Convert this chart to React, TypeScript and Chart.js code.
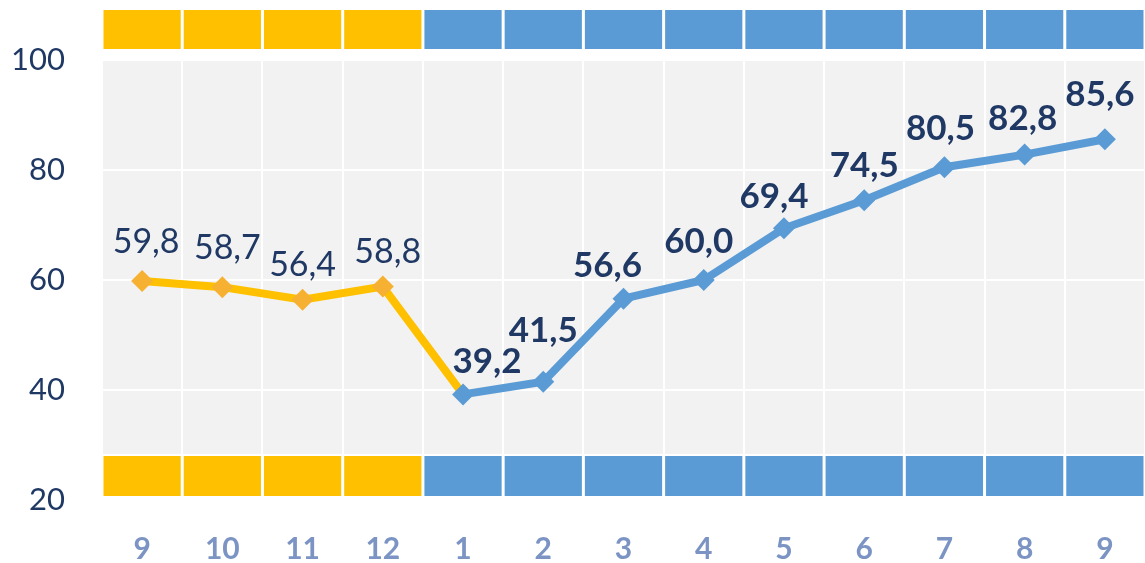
import React, { useEffect, useRef } from "react";
import { Chart, registerables } from "chart.js";

Chart.register(...registerables);

const categories = ["9", "10", "11", "12", "1", "2", "3", "4", "5", "6", "7", "8", "9"];
const values = [59.8, 58.7, 56.4, 58.8, 39.2, 41.5, 56.6, 60.0, 69.4, 74.5, 80.5, 82.8, 85.6];
const yTicks = [20, 40, 60, 80, 100];
const firstPeriodCount = 4; // first 4 months (previous year) in yellow

// label nudges (style only)
const labelDx = [4, 5, 0, 5, 24, 0, -16, -5, -10, 0, -4, -2, -5];
const labelDy = [39, 39, 35, 35, 33, 51, 33, 38, 32, 35, 39, 36, 44];

const YELLOW = "#FFC000";
const YELLOW_MARK = "#F6B132";
const BLUE = "#5B9BD5";
const NAVY = "#1F3864";
const XLABEL = "#7B94C4";
const FONT = "Lato, 'Open Sans', sans-serif";

const fmt = (v: number) => v.toFixed(1).replace(".", ",");

const bgPlugin = {
  id: "bgBands",
  beforeDraw(chart: any) {
    const { ctx, chartArea } = chart;
    ctx.save();
    ctx.fillStyle = "#F2F2F2";
    ctx.fillRect(chartArea.left, chartArea.top, chartArea.right - chartArea.left, chartArea.bottom - 46 - chartArea.top);
    ctx.restore();
  },
  beforeDatasetsDraw(chart: any) {
    const { ctx, chartArea } = chart;
    const x = chart.scales.x;
    const n = categories.length;
    const w = (chartArea.right - chartArea.left) / n;
    const bands = [
      [chartArea.top - 50, chartArea.top - 11],
      [chartArea.bottom - 44, chartArea.bottom - 4],
    ];
    ctx.save();
    for (let i = 0; i < n; i++) {
      const cx = x.getPixelForValue(i);
      const l = cx - w / 2 + 1.5;
      const r = cx + w / 2 - 1.5;
      ctx.fillStyle = i < firstPeriodCount ? YELLOW : BLUE;
      for (const [t, b] of bands) {
        ctx.fillRect(l, t, r - l, b - t);
      }
    }
    ctx.restore();
  },
  afterDatasetsDraw(chart: any) {
    const { ctx } = chart;
    const meta = chart.getDatasetMeta(0);
    ctx.save();
    ctx.textAlign = "center";
    ctx.textBaseline = "middle";
    ctx.fillStyle = NAVY;
    meta.data.forEach((pt: any, i: number) => {
      const bold = i >= firstPeriodCount;
      ctx.font = `${bold ? "bold " : ""}${bold ? 35 : 34}px ${FONT}`;
      ctx.fillText(fmt(values[i]), pt.x + labelDx[i], pt.y - labelDy[i]);
    });
    ctx.restore();
  },
};

export default function App() {
  const ref = useRef<HTMLCanvasElement | null>(null);
  useEffect(() => {
    if (!ref.current) return;
    const chart = new Chart(ref.current, {
      type: "line",
      data: {
        labels: categories,
        datasets: [
          {
            data: values,
            borderWidth: 8,
            borderColor: BLUE,
            segment: {
              borderColor: (c: any) => (c.p0DataIndex < firstPeriodCount ? YELLOW : BLUE),
            },
            pointStyle: "rectRot",
            pointRadius: 11,
            pointHoverRadius: 11,
            pointBorderWidth: 0,
            pointBackgroundColor: values.map((_, i) => (i < firstPeriodCount ? YELLOW_MARK : BLUE)),
            tension: 0,
            clip: false,
          } as any,
        ],
      },
      options: {
        animation: false,
        responsive: false,
        layout: { autoPadding: false, padding: { top: 60, left: 0, right: 0, bottom: 0 } },
        plugins: { legend: { display: false }, tooltip: { enabled: false } },
        scales: {
          x: {
            offset: true,
            grid: { offset: true, color: "#FFFFFF", lineWidth: 2, drawTicks: false },
            border: { display: false },
            ticks: { color: XLABEL, font: { family: FONT, size: 30, weight: "bold" }, padding: 31 },
            afterFit: (s: any) => {
              s.height = 63;
              s.paddingLeft = 0;
              s.paddingRight = 0;
            },
          },
          y: {
            min: 20,
            max: 100,
            afterBuildTicks: (s: any) => {
              s.ticks = yTicks.map((v) => ({ value: v }));
            },
            grid: { color: "#FFFFFF", lineWidth: 2, drawTicks: false },
            border: { display: false },
            ticks: { color: NAVY, font: { family: FONT, size: 31 }, padding: 37 },
            afterFit: (s: any) => {
              s.width = 102;
              s.paddingTop = 0;
              s.paddingBottom = 0;
            },
          },
        },
      } as any,
      plugins: [bgPlugin],
    });
    return () => chart.destroy();
  }, []);
  return (
    <div style={{ position: "absolute", left: 0, top: 0, width: 1145, height: 563 }}>
      <canvas ref={ref} width={1145} height={563} style={{ display: "block" }} />
    </div>
  );
}
